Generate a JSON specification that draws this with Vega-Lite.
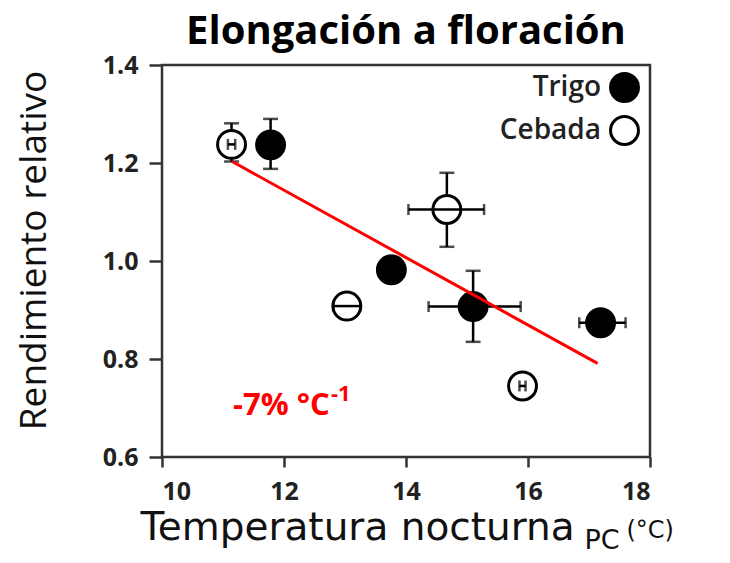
{
  "$schema": "https://vega.github.io/schema/vega-lite/v6.json",
  "width": 488,
  "height": 392,
  "autosize": "none",
  "padding": {"left": 162, "top": 65, "right": 80, "bottom": 106},
  "background": "white",
  "config": {"font": "Open Sans", "view": {"stroke": "#333", "strokeWidth": 2.5}},
  "title": {"text": "Elongación a floración", "fontSize": 40, "fontWeight": "bold", "font": "Open Sans", "color": "black", "anchor": "middle", "baseline": "alphabetic", "offset": -31},
  "datasets": {
    "pts": [
      {"grano": "Trigo", "temp": 11.78, "rend": 1.237, "temp_lo": 11.73, "temp_hi": 11.83, "rend_lo": 1.188, "rend_hi": 1.29},
      {"grano": "Trigo", "temp": 13.76, "rend": 0.982, "temp_lo": 13.66, "temp_hi": 13.86, "rend_lo": 0.962, "rend_hi": 1.002},
      {"grano": "Trigo", "temp": 15.10, "rend": 0.907, "temp_lo": 14.37, "temp_hi": 15.88, "rend_lo": 0.835, "rend_hi": 0.98},
      {"grano": "Trigo", "temp": 17.19, "rend": 0.874, "temp_lo": 16.84, "temp_hi": 17.6, "rend_lo": 0.86, "rend_hi": 0.888},
      {"grano": "Cebada", "temp": 11.14, "rend": 1.238, "temp_lo": 11.08, "temp_hi": 11.2, "rend_lo": 1.203, "rend_hi": 1.281},
      {"grano": "Cebada", "temp": 14.67, "rend": 1.105, "temp_lo": 14.04, "temp_hi": 15.28, "rend_lo": 1.029, "rend_hi": 1.18},
      {"grano": "Cebada", "temp": 13.03, "rend": 0.908, "temp_lo": 12.81, "temp_hi": 13.25, "rend_lo": 0.9, "rend_hi": 0.916},
      {"grano": "Cebada", "temp": 15.91, "rend": 0.745, "temp_lo": 15.86, "temp_hi": 15.96, "rend_lo": 0.74, "rend_hi": 0.75}
    ],
    "fit": [
      {"temp": 11.15, "rend": 1.203},
      {"temp": 17.14, "rend": 0.791}
    ]
  },
  "resolve": {"axis": {"x": "independent", "y": "independent"}},
  "layer": [
    {
      "data": {"name": "pts"},
      "mark": {"type": "errorbar", "color": "black", "ticks": {"size": 15, "thickness": 2.5}, "rule": {"strokeWidth": 2.5}},
      "encoding": {
        "x": {"field": "temp", "type": "quantitative", "axis": null},
        "y": {"field": "rend_lo", "type": "quantitative", "axis": null},
        "y2": {"field": "rend_hi"}
      }
    },
    {
      "data": {"name": "pts"},
      "mark": {"type": "point", "shape": "circle", "size": 780, "stroke": "black", "strokeWidth": 3, "opacity": 1, "fillOpacity": 1},
      "encoding": {
        "x": {"field": "temp", "type": "quantitative", "scale": {"domain": [10, 18], "nice": false, "zero": false},
          "axis": {"values": [10, 12, 14, 16, 18], "domain": false, "grid": false, "tickSize": 10, "tickWidth": 2.5, "tickColor": "#333",
            "labelFontSize": 25, "labelFontWeight": "bold", "labelColor": "#222", "labelPadding": 12,
            "title": "Temperatura nocturna", "titleFont": "DejaVu Sans", "titleFontSize": 39, "titleFontWeight": "normal", "titleColor": "#111",
            "titleX": -22, "titleY": 82, "titleAlign": "left", "titleBaseline": "alphabetic"}},
        "y": {"field": "rend", "type": "quantitative", "scale": {"domain": [0.6, 1.4], "nice": false, "zero": false},
          "axis": {"values": [0.6, 0.8, 1.0, 1.2, 1.4], "format": ".1f", "domain": false, "grid": false, "tickSize": 13, "tickWidth": 2.5, "tickColor": "#333",
            "labelFontSize": 25, "labelFontWeight": "bold", "labelColor": "#222", "labelPadding": 11,
            "title": "Rendimiento relativo", "titleFontSize": 37, "titleFontWeight": "normal", "titleColor": "#111",
            "titleX": -117, "titleY": 185, "titleAlign": "center", "titleBaseline": "alphabetic", "titleAngle": -90}},
        "fill": {"field": "grano", "type": "nominal", "scale": {"domain": ["Trigo", "Cebada"], "range": ["black", "white"]},
          "legend": {"orient": "none", "legendX": 447, "legendY": 7, "title": null, "direction": "vertical", "symbolType": "circle", "symbolSize": 780,
            "symbolStrokeColor": "black", "symbolStrokeWidth": 3, "symbolOpacity": 1, "labelAlign": "right", "labelOffset": -39,
            "labelFontSize": 28, "labelFontWeight": 600, "labelColor": "#222", "rowPadding": 2, "padding": 0, "labelLimit": 300}}
      }
    },
    {
      "data": {"name": "pts"},
      "mark": {"type": "errorbar", "color": "black", "ticks": {"size": 11, "thickness": 2.5}, "rule": {"strokeWidth": 2.5}},
      "encoding": {
        "y": {"field": "rend", "type": "quantitative", "axis": null},
        "x": {"field": "temp_lo", "type": "quantitative", "axis": null},
        "x2": {"field": "temp_hi"}
      }
    },
    {
      "data": {"name": "fit"},
      "mark": {"type": "line", "color": "#ff0000", "strokeWidth": 3},
      "encoding": {
        "x": {"field": "temp", "type": "quantitative",
          "axis": {"orient": "top", "domain": false, "ticks": false, "labels": false, "grid": false,
            "title": "PC", "titleFont": "DejaVu Sans", "titleFontSize": 27, "titleFontWeight": "normal", "titleColor": "#111",
            "titleX": 422, "titleY": 483, "titleAlign": "left", "titleBaseline": "alphabetic", "titleAngle": 0}},
        "y": {"field": "rend", "type": "quantitative",
          "axis": {"orient": "right", "domain": false, "ticks": false, "labels": false, "grid": false,
            "title": "(°C)", "titleFont": "DejaVu Sans", "titleFontSize": 24, "titleFontWeight": "normal", "titleColor": "#111",
            "titleX": -24, "titleY": 472, "titleAlign": "left", "titleBaseline": "alphabetic", "titleAngle": 0}}
      }
    },
    {
      "data": {"values": [{"label": "-7% °C"}]},
      "mark": {"type": "text", "color": "#ff0000", "fontSize": 31, "fontWeight": "bold", "align": "right", "baseline": "alphabetic"},
      "encoding": {
        "text": {"field": "label"},
        "x": {"datum": 12.75, "type": "quantitative", "axis": null},
        "y": {"datum": 0.686, "type": "quantitative", "axis": null}
      }
    },
    {
      "data": {"values": [{"label": "-1"}]},
      "mark": {"type": "text", "color": "#ff0000", "fontSize": 22, "fontWeight": "bold", "align": "left", "baseline": "alphabetic"},
      "encoding": {
        "text": {"field": "label"},
        "x": {"datum": 12.77, "type": "quantitative", "axis": null},
        "y": {"datum": 0.714, "type": "quantitative", "axis": null}
      }
    }
  ]
}
